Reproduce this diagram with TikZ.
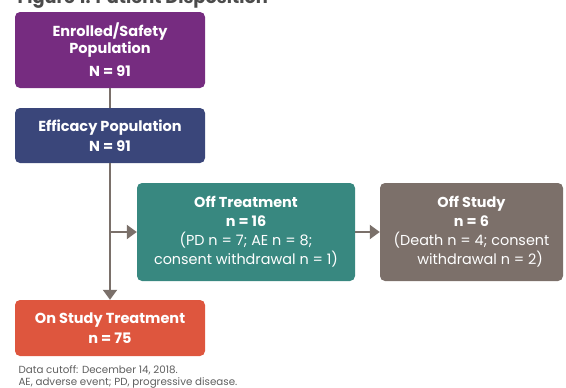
\documentclass[tikz,border=0pt]{standalone}
\usepackage{fontspec}
\setmainfont{Poppins}
\usetikzlibrary{positioning, arrows.meta}
\definecolor{enrolcol}{RGB}{118,44,128}
\definecolor{efficol}{RGB}{58,70,122}
\definecolor{offtrcol}{RGB}{56,136,128}
\definecolor{offstcol}{RGB}{124,112,106}
\definecolor{oncol}{RGB}{222,86,62}
\definecolor{linecol}{RGB}{122,112,106}
\definecolor{titlecol}{RGB}{75,75,75}
\definecolor{notecol}{RGB}{95,95,95}
\tikzset{ dispbox/.style={rounded corners=5pt, text=white, align=center,
            inner sep=0pt, font=\fontsize{14.5}{19.5}\selectfont},
          flowline/.style={draw=linecol, line width=2pt},
          flowarrow/.style={flowline, -{Triangle[length=10pt,width=14pt]}}}

\begin{document}
\begin{tikzpicture}[x=1pt,y=-1pt]

\useasboundingbox (0,0) rectangle (566,388);

% title, cut off at the top of the page
\node[anchor=base west, text=titlecol, font=\fontsize{17.8}{18}\selectfont\bfseries]
  (title) at (14,3) {Figure 1. Patient Disposition};

\node[dispbox, fill=enrolcol, minimum width=190pt, minimum height=76pt,
  font=\fontsize{14.5}{17}\selectfont]
  (enrol) at (110,50)
  {\textbf{Enrolled/Safety}\\\textbf{Population}\\[6pt]\textbf{N = 91}};
\node[dispbox, fill=efficol, minimum width=190pt, minimum height=55pt]
  (effic) at (110,135.5)
  {\textbf{Efficacy Population}\\\textbf{N = 91}};
\node[dispbox, fill=offtrcol, minimum width=218pt, minimum height=98pt,
  font=\fontsize{14.4}{19}\selectfont]
  (offtr) at (246,232)
  {\textbf{Off Treatment}\\\textbf{n = 16}\\(PD n = 7; AE n = 8;\\consent withdrawal n = 1)};
\node[dispbox, fill=offstcol, minimum width=183pt, minimum height=98pt,
  font=\fontsize{14.4}{19}\selectfont]
  (offst) at (471.5,232)
  {\textbf{Off Study}\\\textbf{n = 6}\\(Death n = 4; consent\\\hspace*{1.2em}withdrawal n = 2)};
\node[dispbox, fill=oncol, minimum width=190pt, minimum height=56pt]
  (onst) at (110,328)
  {\textbf{On Study Treatment}\\\textbf{n = 75}};

% connectors
\coordinate (split) at (enrol.south |- offtr.west);
\draw[flowline] (enrol) -- (effic);
\draw[flowarrow] (effic) -- (onst);
\draw[flowarrow] (split) -- (offtr);
\draw[flowarrow] (offtr) -- (offst);

% footnotes
\foreach \y/\txt [count=\i] in {373.5/{Data cutoff: December 14, 2018.},
    385/{AE, adverse event; PD, progressive disease.}}
  \node[anchor=base west, text=notecol, font=\fontsize{10.3}{11}\selectfont]
    (note\i) at (15,\y) {\txt};

\end{tikzpicture}
\end{document}
